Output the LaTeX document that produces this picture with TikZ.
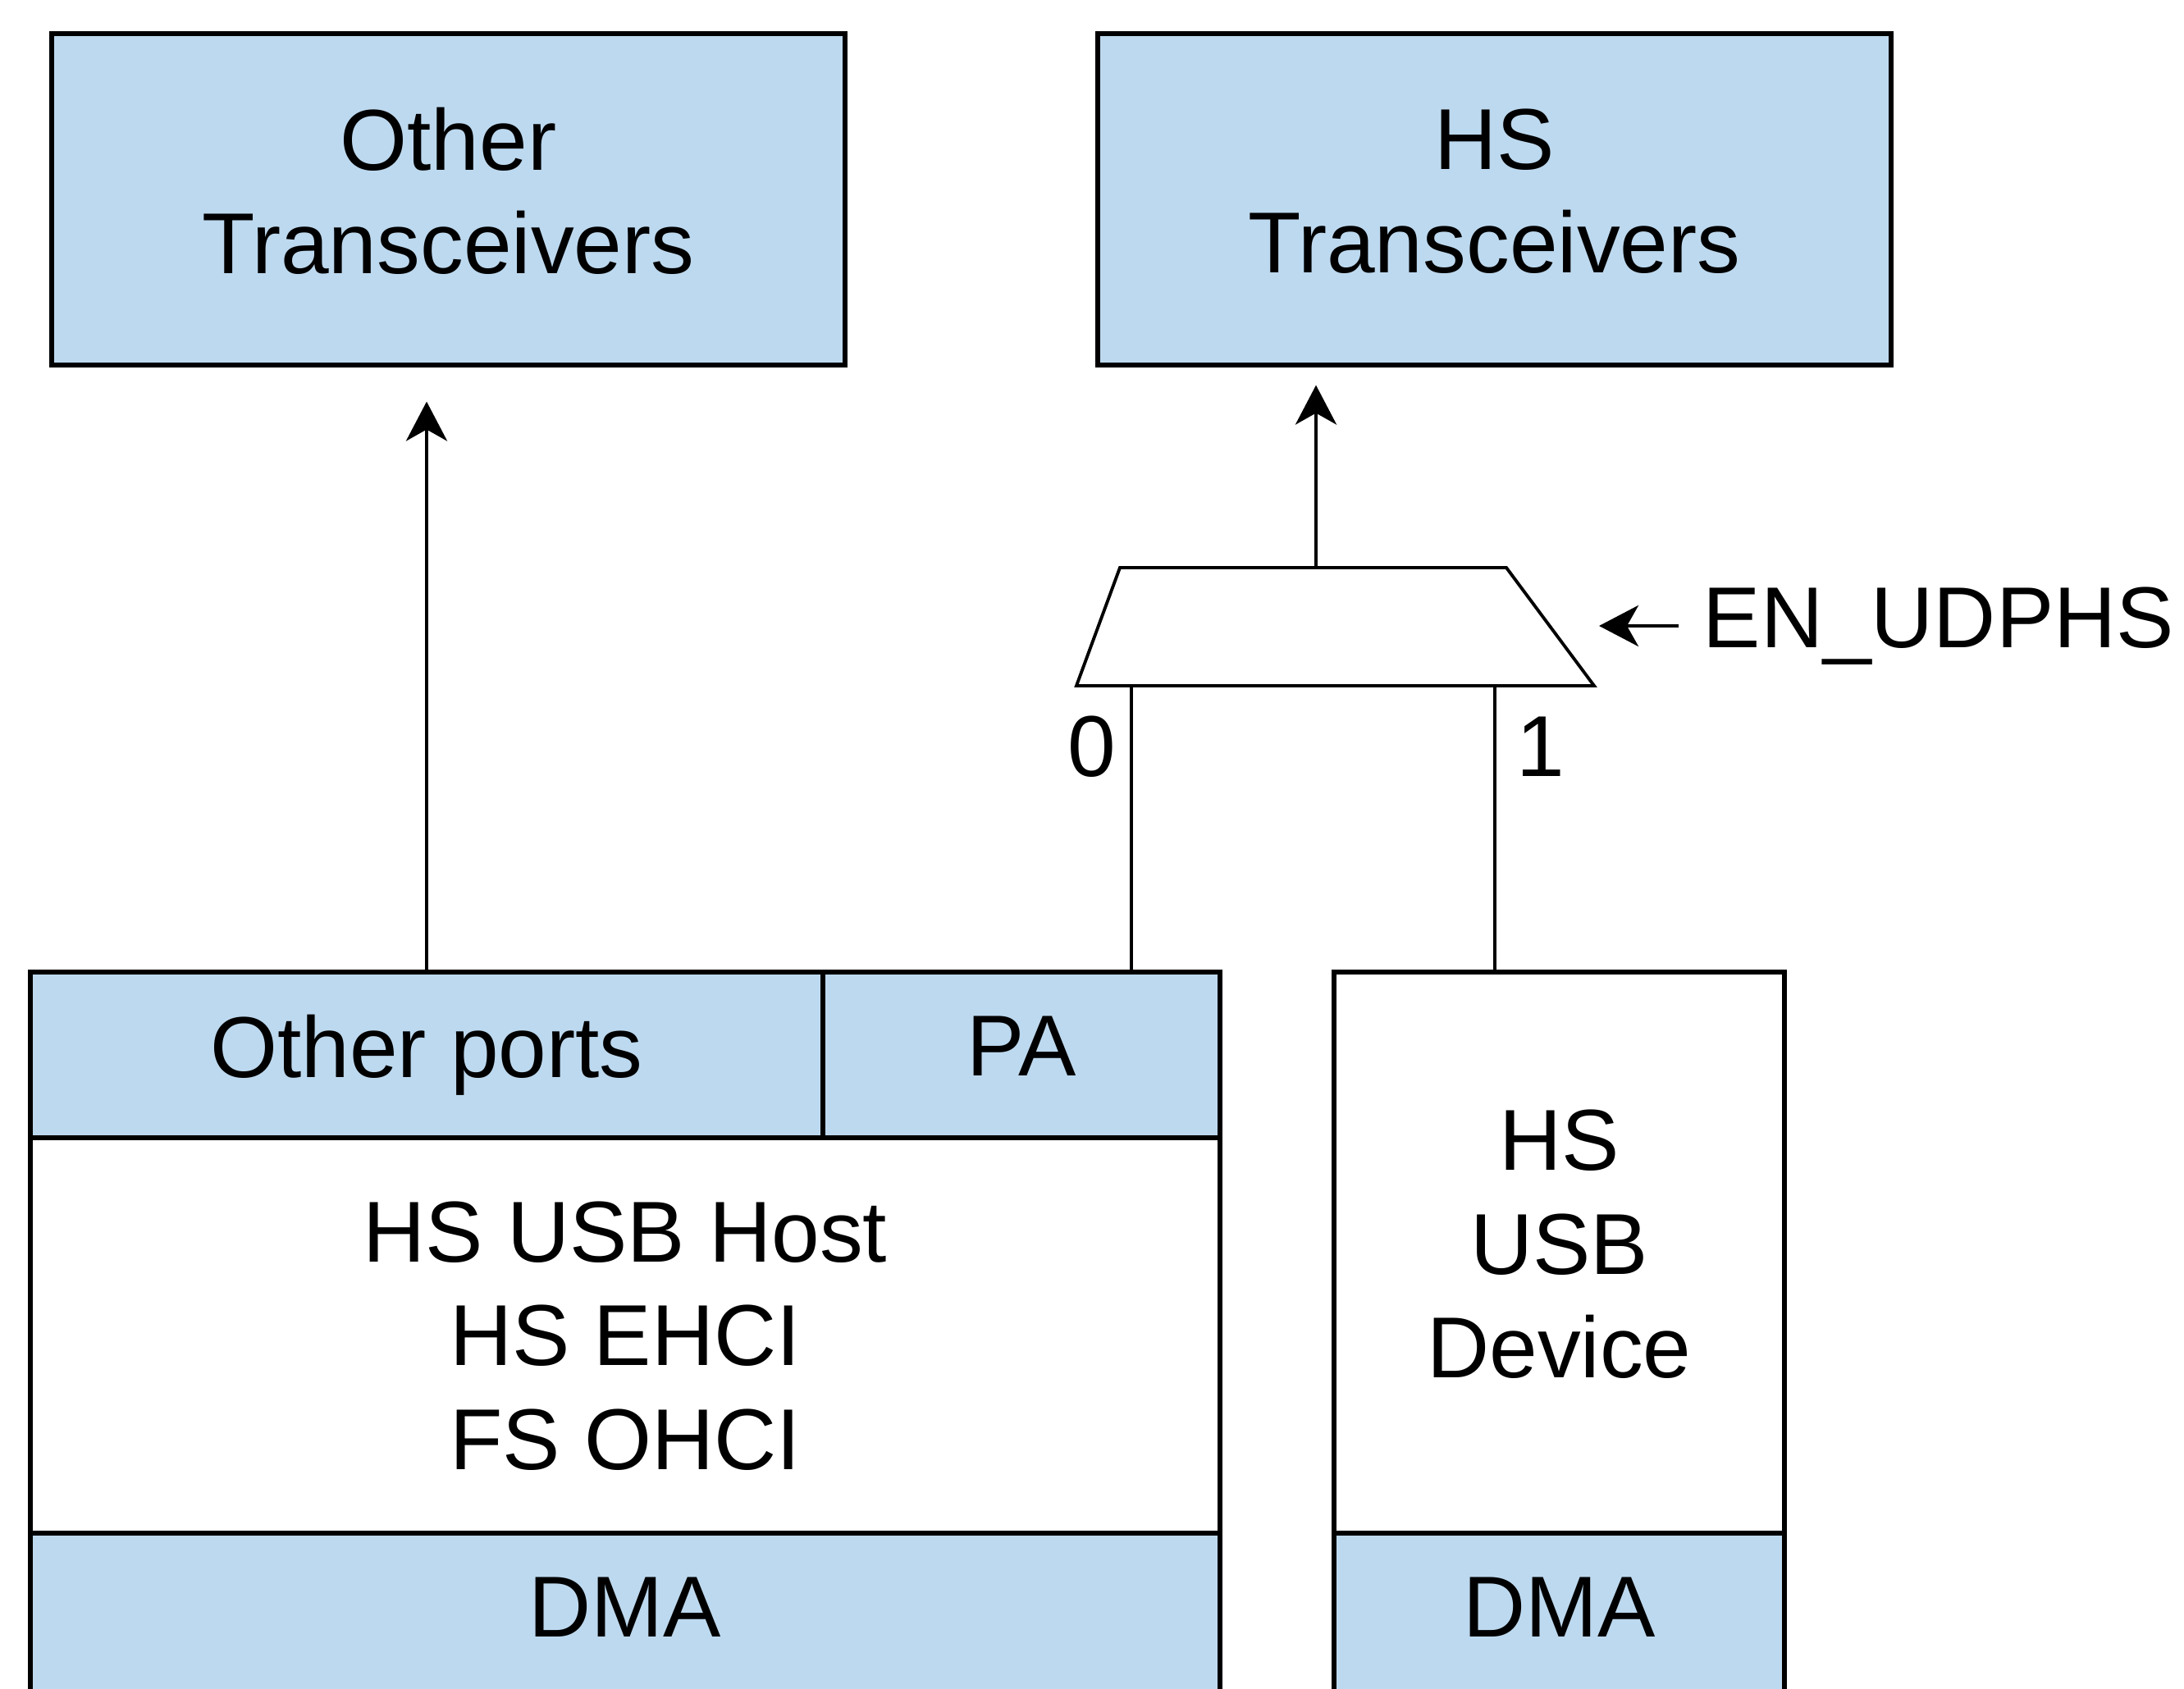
\documentclass[tikz,border=0pt]{standalone}
\usepackage{fontspec}
\setmainfont{Liberation Sans}
\usetikzlibrary{arrows.meta, positioning, calc}
\definecolor{portblue}{RGB}{189,217,239}

\begin{document}
\begin{tikzpicture}[
    every node/.style={font=\fontsize{30}{36}\selectfont},
    block/.style={draw, rectangle, line width=1.45pt, align=center, inner sep=0pt, text depth=0.21cm},
    blueblock/.style={block, fill=portblue},
    whiteblock/.style={block, fill=white},
    arrow/.style={-{Stealth[length=0.48cm, width=0.5cm, inset=0.14cm]}, line width=1.35pt},
    line/.style={line width=1.35pt},
    pinlabel/.style={inner sep=0pt}
]
    \useasboundingbox (0,0) rectangle (26.62,-20.59);
    \clip (0,0) rectangle (26.62,-20.59);

    % Transceivers
    \node (otrx)  [blueblock, minimum width=9.67cm, minimum height=4.04cm] at (5.465,-2.43) {Other\\Transceivers};
    \node (hstrx) [blueblock, minimum width=9.67cm, minimum height=4.04cm] at (18.215,-2.43) {HS\\Transceivers};

    % Host block
    \node (oports) [blueblock, minimum width=9.66cm, minimum height=2.02cm] at (5.20,-12.86) {Other ports};
    \node (pa)     [blueblock, minimum width=4.84cm, minimum height=2.02cm] at (12.45,-12.86) {PA};
    \node (host)   [whiteblock, text depth=0pt, minimum width=14.50cm, minimum height=4.82cm] at (7.62,-16.28) {HS USB Host\\HS EHCI\\FS OHCI};
    \node (hdma)   [blueblock, minimum width=14.50cm, minimum height=2.02cm] at (7.62,-19.70) {DMA};

    % Device block
    \node (dev)  [whiteblock, minimum width=5.49cm, minimum height=6.84cm] at (19.005,-15.27) {HS\\USB\\Device};
    \node (ddma) [blueblock, minimum width=5.49cm, minimum height=2.02cm] at (19.005,-19.70) {DMA};

    % Mux
    \draw [line width=1.1pt] (13.65,-6.92) -- (18.36,-6.92) -- (19.43,-8.36) -- (13.12,-8.36) -- cycle;
    \coordinate (muxout) at (16.04,-6.92);
    \coordinate (mux0)   at (13.79,-8.36);
    \coordinate (mux1)   at (18.22,-8.36);
    \coordinate (muxsel) at (19.49,-7.63);

    \node (en)   [pinlabel, anchor=west] at (20.75,-7.63) {EN\_UDPHS};
    \node (lbl0) [pinlabel] at (13.31,-9.10) {0};
    \node (lbl1) [pinlabel] at (18.78,-9.10) {1};

    % Connections
    \draw [arrow, shorten >=0.42cm] (oports.north) -- (oports.north |- otrx.south);
    \draw [arrow, shorten >=0.22cm] (muxout) -- (muxout |- hstrx.south);
    \draw [line] (mux0) -- (mux0 |- pa.north);
    \draw [line] (mux1) -- (mux1 |- dev.north);
    \draw [arrow] ([xshift=-0.29cm]en.west) -- (muxsel);

\end{tikzpicture}
\end{document}
